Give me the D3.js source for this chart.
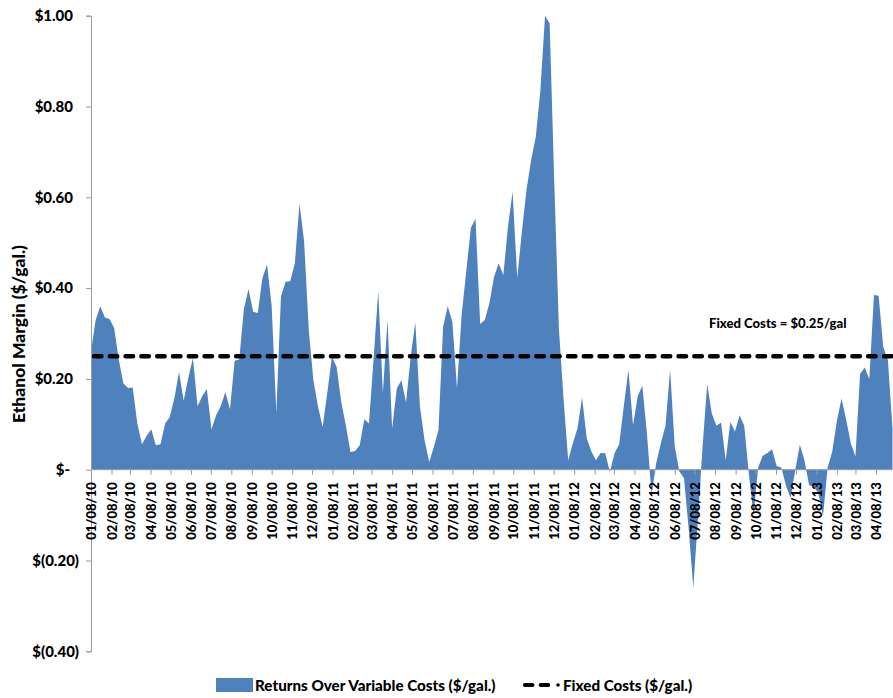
<!DOCTYPE html>
<html>
<head>
<meta charset="utf-8">
<script src="https://cdn.jsdelivr.net/npm/d3@7"></script>
<style>
  html, body { margin: 0; padding: 0; background: #fff; }
  svg { display: block; font-family: Lato, "Open Sans", sans-serif; font-weight: 900; }
</style>
</head>
<body>
<svg id="chart" width="893" height="698"></svg>
<script>
// Weekly ethanol returns over variable costs ($/gal.), first week ending 01/08/2010
const firstWeek = "2010-01-08";
const margins = [
  0.26, 0.33, 0.36, 0.335, 0.332, 0.312, 0.242, 0.19, 0.18, 0.181,
  0.102, 0.056, 0.074, 0.089, 0.054, 0.056, 0.102, 0.116, 0.158, 0.215,
  0.152, 0.202, 0.246, 0.14, 0.162, 0.178, 0.089, 0.12, 0.14, 0.171,
  0.133, 0.24, 0.243, 0.354, 0.398, 0.348, 0.345, 0.422, 0.452, 0.36,
  0.125, 0.382, 0.414, 0.415, 0.455, 0.586, 0.503, 0.308, 0.197, 0.139,
  0.094, 0.169, 0.249, 0.227, 0.15, 0.098, 0.039, 0.041, 0.054, 0.111,
  0.102, 0.245, 0.393, 0.169, 0.33, 0.091, 0.179, 0.197, 0.148, 0.249,
  0.325, 0.139, 0.065, 0.017, 0.05, 0.087, 0.315, 0.36, 0.326, 0.179,
  0.341, 0.437, 0.533, 0.553, 0.321, 0.33, 0.367, 0.425, 0.455, 0.429,
  0.535, 0.612, 0.422, 0.524, 0.616, 0.682, 0.733, 0.836, 1.0, 0.983,
  0.631, 0.31, 0.156, 0.021, 0.058, 0.091, 0.159, 0.069, 0.04, 0.021,
  0.037, 0.036, -0.005, 0.036, 0.056, 0.14, 0.22, 0.098, 0.162, 0.185,
  0.08, -0.055, 0.015, 0.058, 0.097, 0.22, 0.051, -0.004, -0.019, -0.13,
  -0.26, -0.11, 0.05, 0.189, 0.124, 0.097, 0.104, 0.021, 0.105, 0.084,
  0.12, 0.097, -0.01, -0.1, 0.005, 0.031, 0.037, 0.045, 0.008, 0.005,
  -0.035, -0.063, -0.002, 0.055, 0.021, -0.034, -0.037, -0.052, -0.102, 0.005,
  0.04, 0.108, 0.157, 0.11, 0.058, 0.029, 0.211, 0.225, 0.2, 0.385,
  0.383, 0.271, 0.242, 0.09
];
const fixedCost = 0.25;
const yTicks = [-0.4, -0.2, 0, 0.2, 0.4, 0.6, 0.8, 1.0];

const seriesName = "Returns Over Variable Costs ($/gal.)";
const fixedName = "Fixed Costs ($/gal.)";
const fixedNote = "Fixed Costs = $0.25/gal";
const yTitle = "Ethanol Margin ($/gal.)";

const parse = d3.timeParse("%Y-%m-%d");
const start = parse(firstWeek);
const data = margins.map((v, i) => ({ date: d3.timeDay.offset(start, 7 * i), v }));

const svg = d3.select("#chart");
const blue = "#4F81BD";
const axisGrey = "#9A9A9A";
const font = "Lato, sans-serif";

const x = d3.scaleTime()
  .domain([data[0].date, data[data.length - 1].date])
  .range([91, 892.5]);
const y = d3.scaleLinear().domain([-0.4, 1.0]).range([651.3, 15.7]);

// area between each weekly value and zero
const area = d3.area()
  .x(d => x(d.date))
  .y0(y(0))
  .y1(d => y(d.v));
svg.append("path").datum(data)
  .attr("d", area)
  .attr("fill", blue);

// fixed cost reference line
svg.append("line")
  .attr("x1", x(data[0].date) + 3).attr("x2", x(data[data.length - 1].date))
  .attr("y1", y(fixedCost)).attr("y2", y(fixedCost))
  .attr("stroke", "#000").attr("stroke-width", 4.6)
  .attr("stroke-linecap", "round")
  .attr("stroke-dasharray", "7.4 8.4");

svg.append("text")
  .attr("x", 709).attr("y", 327.5)
  .attr("font-size", 13.1)
  .attr("fill", "#000")
  .text(fixedNote);

// y axis with accounting-style labels
const fmtMoney = v => {
  if (Math.abs(v) < 1e-9) return "$-";
  const s = d3.format(".2f")(Math.abs(v));
  return v < 0 ? "$(" + s + ")" : "$" + s;
};
const yAxis = svg.append("g")
  .attr("transform", "translate(91,0)")
  .call(d3.axisLeft(y).tickValues(yTicks).tickSize(5).tickFormat(fmtMoney));
yAxis.select(".domain").attr("stroke", axisGrey);
yAxis.selectAll(".tick line").attr("stroke", axisGrey);
yAxis.selectAll(".tick text")
  .attr("font-family", font)
  .attr("font-weight", 900)
  .attr("font-size", 15)
  .attr("fill", "#000")
  .attr("x", d => d < 0 ? -12 : (Math.abs(d) < 1e-9 ? -21 : -18));

// x axis at zero, one tick per month
const monthTicks = d3.timeMonth.range(parse("2010-01-01"), parse("2013-04-02"))
  .map(m => d3.timeDay.offset(m, 7));
const xAxis = svg.append("g")
  .attr("transform", `translate(0,${y(0)})`)
  .call(d3.axisBottom(x).tickValues(monthTicks).tickSize(5).tickFormat(d3.timeFormat("%m/%d/%y")));
xAxis.select(".domain").attr("stroke", axisGrey).attr("d", `M91,0H892.5`);
xAxis.selectAll(".tick line").attr("stroke", axisGrey);
xAxis.selectAll(".tick text")
  .attr("font-family", font)
  .attr("font-weight", 900)
  .attr("font-size", 13)
  .attr("fill", "#000")
  .attr("transform", "rotate(-90)")
  .attr("text-anchor", "end")
  .attr("x", -12.5).attr("y", 0).attr("dy", "0.36em");

// y axis title
svg.append("text")
  .attr("transform", "translate(25,334) rotate(-90)")
  .attr("text-anchor", "middle")
  .attr("font-size", 17.5)
  .text(yTitle);

// legend
const legend = svg.append("g");
legend.append("rect")
  .attr("x", 216).attr("y", 678).attr("width", 37).attr("height", 14)
  .attr("fill", blue);
legend.append("text")
  .attr("x", 255).attr("y", 691)
  .attr("font-size", 15.2)
  .text(seriesName);
legend.append("line")
  .attr("x1", 525).attr("x2", 550).attr("y1", 685).attr("y2", 685)
  .attr("stroke", "#000").attr("stroke-width", 4.2)
  .attr("stroke-linecap", "round")
  .attr("stroke-dasharray", "7.4 8.4");
legend.append("circle")
  .attr("cx", 558).attr("cy", 685).attr("r", 1.8)
  .attr("fill", "#000");
legend.append("text")
  .attr("x", 563).attr("y", 691)
  .attr("font-size", 15.2)
  .text(fixedName);
</script>
</body>
</html>
